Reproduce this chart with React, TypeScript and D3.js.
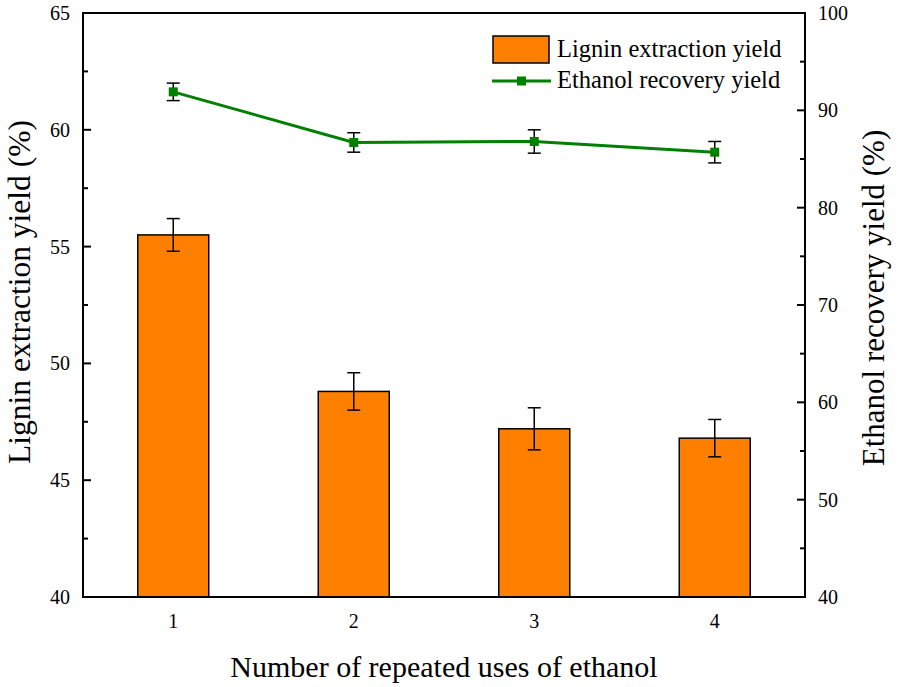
import React from "react";
import * as d3 from "d3";

const categories = [1, 2, 3, 4];
const ligninYield = [55.5, 48.8, 47.2, 46.8];
const ligninErr = [0.7, 0.8, 0.9, 0.8];
const ethanolYield = [91.9, 86.7, 86.8, 85.7];
const ethanolErr = [0.9, 1.0, 1.2, 1.1];
const leftTicks = [40, 45, 50, 55, 60, 65];
const rightTicks = [40, 50, 60, 70, 80, 90, 100];

const W = 898, H = 687;
const L = 83, R = 805, T = 13, B = 597;
const FONT = "'Liberation Serif', 'Times New Roman', serif";

export default function App() {
  const x = d3.scaleLinear().domain([0.5, 4.5]).range([L, R]);
  const yL = d3.scaleLinear().domain([40, 65]).range([B, T]);
  const yR = d3.scaleLinear().domain([40, 100]).range([B, T]);
  const barW = 71;
  const cap = 6.5;
  const lineGen = d3.line<number>().x((_, i) => x(categories[i])).y((d) => yR(d));
  const leftMinor = d3.range(42.5, 65, 5);
  const rightMinor = d3.range(45, 100, 10);
  const ts = { fontFamily: FONT };
  return (
    <svg width={W} height={H} style={{ position: "absolute", left: 0, top: 0, fontFamily: FONT }}>
      <rect x={0} y={0} width={W} height={H} fill="#fff" />
      {categories.map((c, i) => (
        <g key={"b" + c}>
          <rect x={x(c) - barW / 2} y={yL(ligninYield[i])} width={barW} height={B - yL(ligninYield[i])}
            fill="#FF8000" stroke="#000" strokeWidth={1.5} />
          <line x1={x(c)} x2={x(c)} y1={yL(ligninYield[i] + ligninErr[i])} y2={yL(ligninYield[i] - ligninErr[i])} stroke="#000" strokeWidth={1.5} />
          <line x1={x(c) - cap} x2={x(c) + cap} y1={yL(ligninYield[i] + ligninErr[i])} y2={yL(ligninYield[i] + ligninErr[i])} stroke="#000" strokeWidth={1.5} />
          <line x1={x(c) - cap} x2={x(c) + cap} y1={yL(ligninYield[i] - ligninErr[i])} y2={yL(ligninYield[i] - ligninErr[i])} stroke="#000" strokeWidth={1.5} />
        </g>
      ))}
      <path d={lineGen(ethanolYield) || ""} fill="none" stroke="#008000" strokeWidth={3} />
      {categories.map((c, i) => (
        <g key={"p" + c}>
          <line x1={x(c)} x2={x(c)} y1={yR(ethanolYield[i] + ethanolErr[i])} y2={yR(ethanolYield[i] - ethanolErr[i])} stroke="#000" strokeWidth={1.5} />
          <line x1={x(c) - cap} x2={x(c) + cap} y1={yR(ethanolYield[i] + ethanolErr[i])} y2={yR(ethanolYield[i] + ethanolErr[i])} stroke="#000" strokeWidth={1.5} />
          <line x1={x(c) - cap} x2={x(c) + cap} y1={yR(ethanolYield[i] - ethanolErr[i])} y2={yR(ethanolYield[i] - ethanolErr[i])} stroke="#000" strokeWidth={1.5} />
          <rect x={x(c) - 4.5} y={yR(ethanolYield[i]) - 4.5} width={9} height={9} fill="#008000" />
        </g>
      ))}
      <rect x={L} y={T} width={R - L} height={B - T} fill="none" stroke="#000" strokeWidth={2} />
      {leftTicks.map((t) => (
        <g key={"lt" + t}>
          <line x1={L} x2={L + 8} y1={yL(t)} y2={yL(t)} stroke="#000" strokeWidth={2} />
          <text style={ts} x={L - 13} y={yL(t)} dy="0.35em" textAnchor="end" fontSize={20}>{t}</text>
        </g>
      ))}
      {leftMinor.map((t) => (
        <line key={"lm" + t} x1={L} x2={L + 5} y1={yL(t)} y2={yL(t)} stroke="#000" strokeWidth={2} />
      ))}
      {rightTicks.map((t) => (
        <g key={"rt" + t}>
          <line x1={R} x2={R - 8} y1={yR(t)} y2={yR(t)} stroke="#000" strokeWidth={2} />
          <text style={ts} x={R + 13} y={yR(t)} dy="0.35em" textAnchor="start" fontSize={20}>{t}</text>
        </g>
      ))}
      {rightMinor.map((t) => (
        <line key={"rm" + t} x1={R} x2={R - 5} y1={yR(t)} y2={yR(t)} stroke="#000" strokeWidth={2} />
      ))}
      {categories.map((c) => (
        <text style={ts} key={"xt" + c} x={x(c)} y={628} textAnchor="middle" fontSize={20}>{c}</text>
      ))}
      <text style={ts} x={444} y={677} textAnchor="middle" fontSize={30}>Number of repeated uses of ethanol</text>
      <text style={ts} transform={`translate(30,292) rotate(-90)`} textAnchor="middle" fontSize={31.5}>Lignin extraction yield (%)</text>
      <text style={ts} transform={`translate(884,298) rotate(-90)`} textAnchor="middle" fontSize={31}>Ethanol recovery yield (%)</text>
      <rect x={493} y={36} width={56} height={27} fill="#FF8000" stroke="#000" strokeWidth={1.5} />
      <text style={ts} x={557} y={57} fontSize={24.5}>Lignin extraction yield</text>
      <line x1={492} x2={551} y1={81} y2={81} stroke="#008000" strokeWidth={3} />
      <rect x={517} y={76.5} width={9} height={9} fill="#008000" />
      <text style={ts} x={557} y={88} fontSize={24.5}>Ethanol recovery yield</text>
    </svg>
  );
}
